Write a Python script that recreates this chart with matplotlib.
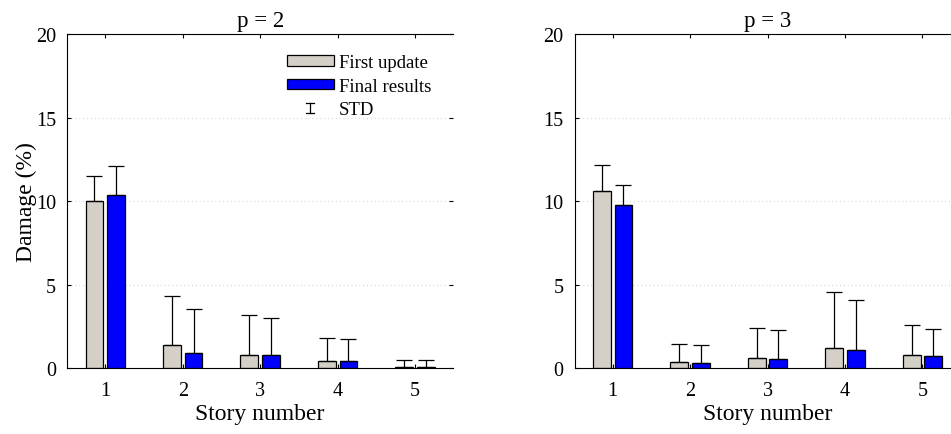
import matplotlib
matplotlib.use("Agg")
import matplotlib.pyplot as plt
import numpy as np
from matplotlib.lines import Line2D
from matplotlib.patches import Patch
from matplotlib.legend_handler import HandlerBase

plt.rcParams['font.family'] = ['Liberation Serif', 'DejaVu Serif']

stories = [1, 2, 3, 4, 5]
story_labels = ['1', '2', '3', '4', '5']

p2_first = [10.0, 1.39, 0.81, 0.45, 0.10]
p2_first_std = [1.49, 2.93, 2.37, 1.36, 0.41]
p2_final = [10.37, 0.91, 0.78, 0.43, 0.09]
p2_final_std = [1.72, 2.63, 2.24, 1.32, 0.41]

p3_first = [10.60, 0.36, 0.62, 1.21, 0.79]
p3_first_std = [1.54, 1.07, 1.79, 3.35, 1.81]
p3_final = [9.74, 0.34, 0.58, 1.07, 0.73]
p3_final_std = [1.25, 1.05, 1.71, 3.03, 1.63]

titles = ['p = 2', 'p = 3']
gray = '#d4d0c8'
blue = '#0000ff'


class HandlerSTD(HandlerBase):
    def create_artists(self, legend, orig_handle, xdescent, ydescent,
                       width, height, fontsize, trans):
        cx = -xdescent + width / 2
        cy = -ydescent + height / 2
        hh = 3.6
        cw = 2.9
        arts = [
            Line2D([cx, cx], [cy - hh, cy + hh]),
            Line2D([cx - cw, cx + cw], [cy + hh, cy + hh]),
            Line2D([cx - cw, cx + cw], [cy - hh, cy - hh]),
        ]
        for a in arts:
            a.set_color('black')
            a.set_linewidth(0.9)
            a.set_transform(trans)
        return arts


class STDHandle:
    pass


W, H = 951, 435
fig = plt.figure(figsize=(W / 100, H / 100), dpi=100)
ax_y0 = (H - 369.3) / H
ax_h = (369.3 - 35) / H
ax_w = (453 - 67.3) / W
axes = [fig.add_axes([67.3 / W, ax_y0, ax_w, ax_h]),
        fig.add_axes([574.7 / W, ax_y0, ax_w, ax_h])]

data = [(p2_first, p2_first_std, p2_final, p2_final_std),
        (p3_first, p3_first_std, p3_final, p3_final_std)]

x = np.array(stories, dtype=float)
off = 0.14
bw = 0.23
for i, ax in enumerate(axes):
    f, fs, g, gs = data[i]
    ax.set_axisbelow(True)
    ax.yaxis.grid(True, linestyle=(0, (1, 2.5)), color='#d8d8d8', lw=0.8)
    ax.bar(x - off, f, bw, color=gray, edgecolor='black', lw=0.9, zorder=2)
    ax.bar(x + off, g, bw, color=blue, edgecolor='black', lw=0.9, zorder=2)
    ax.errorbar(x - off, f, yerr=[np.zeros(5), fs], fmt='none', ecolor='black',
                elinewidth=0.9, capsize=5.8, capthick=0.9, zorder=3)
    ax.errorbar(x + off, g, yerr=[np.zeros(5), gs], fmt='none', ecolor='black',
                elinewidth=0.9, capsize=5.8, capthick=0.9, zorder=3)
    ax.set_xlim(0.51, 5.49)
    ax.set_ylim(0, 20)
    ax.set_yticks([0, 5, 10, 15, 20])
    ax.set_xticks(stories)
    ax.set_xticklabels(story_labels)
    ax.tick_params(direction='in', length=3, width=0.8, top=True, right=True,
                   labelsize=14.5, pad=8)
    ax.tick_params(axis='x', pad=9)
    for s in ['left', 'bottom', 'top']:
        ax.spines[s].set_linewidth(0.8)
    ax.spines['right'].set_visible(False)
    ax.set_title(titles[i], fontsize=16.5, pad=6)
    ax.set_xlabel('Story number', fontsize=17, labelpad=2)
    if i == 0:
        ax.set_ylabel('Damage (%)', fontsize=17, labelpad=-1)
        handles = [Patch(facecolor=gray, edgecolor='black', lw=0.9),
                   Patch(facecolor=blue, edgecolor='black', lw=0.9),
                   STDHandle()]
        ax.legend(handles, ['First update', 'Final results', 'STD'],
                  handler_map={STDHandle: HandlerSTD()},
                  loc='upper left', bbox_to_anchor=(0.5696, 0.94),
                  frameon=False, fontsize=13.5, borderpad=0, borderaxespad=0,
                  handlelength=2.5, handleheight=0.5, handletextpad=0.25,
                  labelspacing=0.35)

fig.savefig('out.png', dpi=100)
